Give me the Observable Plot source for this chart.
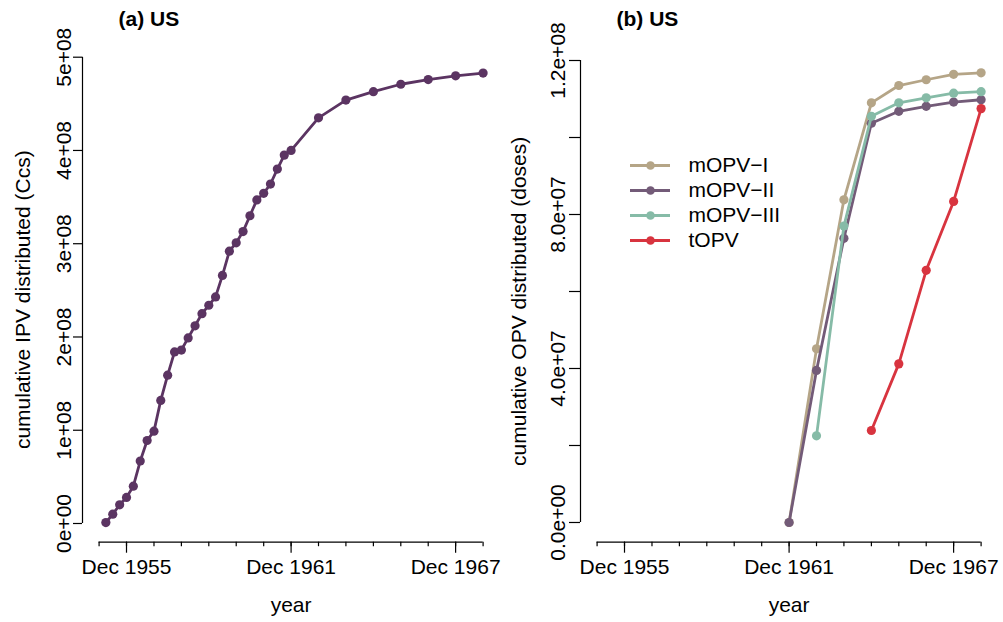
<!DOCTYPE html>
<html>
<head>
<meta charset="utf-8">
<script src="https://cdn.jsdelivr.net/npm/d3@7"></script>
<script src="https://cdn.jsdelivr.net/npm/@observablehq/plot@0.6"></script>
<style>
html, body { margin: 0; padding: 0; background: #fff; }
#wrap { position: relative; width: 1003px; height: 622px; overflow: hidden; background: #fff; }
#wrap > svg { position: absolute; top: 0; overflow: visible; }
</style>
</head>
<body>
<div id="wrap"></div>
<script>
// ---------- data ----------
// (a) US: cumulative IPV distributed (Ccs), quarterly then yearly
const ipvDates = [
  "1955-03","1955-06","1955-09","1955-12",
  "1956-03","1956-06","1956-09","1956-12",
  "1957-03","1957-06","1957-09","1957-12",
  "1958-03","1958-06","1958-09","1958-12",
  "1959-03","1959-06","1959-09","1959-12",
  "1960-03","1960-06","1960-09","1960-12",
  "1961-03","1961-06","1961-09","1961-12",
  "1962-12","1963-12","1964-12","1965-12","1966-12","1967-12","1968-12"
];
const ipvMillions = [
  1, 10, 20, 28,
  40, 67, 89, 99,
  132, 159, 184, 186,
  199, 212, 225, 234,
  243, 266, 292, 301,
  313, 330, 347, 354,
  364, 380, 395, 400,
  435, 454, 463, 471, 476, 480, 483
];

// (b) US: cumulative OPV distributed (doses), yearly
const opvDates = ["1961-12","1962-12","1963-12","1964-12","1965-12","1966-12","1967-12","1968-12"];
const mOPV_I   = [0, 45.1, 83.8, 109.0, 113.5, 115.0, 116.4, 116.8];
const mOPV_II  = [0, 39.5, 73.8, 103.7, 106.8, 108.1, 109.2, 109.8];
const mOPV_III = [null, 22.5, 77.0, 105.5, 109.0, 110.3, 111.5, 111.9];
const tOPV     = [null, null, null, 23.9, 41.2, 65.5, 83.4, 107.5];

const seriesNames = ["mOPV\u2212I", "mOPV\u2212II", "mOPV\u2212III", "tOPV"];
const seriesValues = [mOPV_I, mOPV_II, mOPV_III, tOPV];
const seriesColors = ["#B5A587", "#735B78", "#86BBA7", "#D8343F"];
const ipvColor = "#5B3462";

// axis ticks
const xMinorTicks = ["1954-12","1955-12","1956-12","1957-12","1958-12","1959-12","1960-12","1961-12",
                     "1962-12","1963-12","1964-12","1965-12","1966-12","1967-12","1968-12"];
const xMajorTicks = ["1955-12","1961-12","1967-12"];
const yTicksA = [0, 1e8, 2e8, 3e8, 4e8, 5e8];
const yTicksB = [0, 2e7, 4e7, 6e7, 8e7, 1e8, 1.2e8];
const yLabelsB = [0, 4e7, 8e7, 1.2e8];

const titleA = "(a) US", titleB = "(b) US";
const yTitleA = "cumulative IPV distributed (Ccs)";
const yTitleB = "cumulative OPV distributed (doses)";
const xTitle = "year";

// ---------- build ----------
const parse = d3.utcParse("%Y-%m");
const fmtDate = d3.utcFormat("%b %Y");
const sci = (d, digits) => d.toExponential(digits).replace(/e([+-])(\d)$/, "e$10$2");

const ipv = ipvDates.map((d, i) => ({date: parse(d), value: ipvMillions[i] * 1e6}));
const opv = [];
seriesNames.forEach((s, k) => {
  seriesValues[k].forEach((v, i) => {
    if (v != null) opv.push({series: s, date: parse(opvDates[i]), value: v * 1e6});
  });
});

const minorDates = xMinorTicks.map(parse);
const majorDates = xMajorTicks.map(parse);
const xStart = new Date(Date.UTC(1954, 3, 24));
const xEnd = minorDates[minorDates.length - 1];
const xMid = new Date((+minorDates[0] + +xEnd) / 2);

const FONT = '"Liberation Sans", Arial, Helvetica, sans-serif';
const FS = 21;
const H = 622;
const AXIS_Y = 541.7;

function panel({width, left, marginRight, marginTop, yDomain, yTicks, yFmt, tickSize, tickPadding, title, yTitle, yTitleDx, marks}) {
  const svg = Plot.plot({
    width, height: H,
    marginLeft: 82, marginRight, marginTop, marginBottom: H - AXIS_Y,
    x: {type: "utc", domain: [xStart, xEnd], label: null},
    y: {domain: yDomain, label: null},
    color: {domain: seriesNames, range: seriesColors},
    style: {fontFamily: FONT, fontSize: FS + "px", color: "#000", background: "transparent", overflow: "visible"},
    marks: [
      // x axis
      Plot.ruleY([yDomain[0]], {x1: () => minorDates[0], x2: () => xEnd, stroke: "#000", strokeWidth: 1.2}),
      Plot.axisX(minorDates, {tickSize: 4.5, tickFormat: () => "", strokeWidth: 1.2, label: null}),
      Plot.axisX(majorDates, {tickSize: 11, tickPadding: 5.6, tickFormat: fmtDate, strokeWidth: 1.2, fontSize: FS, label: null}),
      // y axis
      Plot.ruleX([xStart], {y1: () => yTicks[0], y2: () => yTicks[yTicks.length - 1], stroke: "#000", strokeWidth: 1.2}),
      Plot.axisY(yTicks, {anchor: "left", tickSize, tickPadding, tickRotate: -90, textAnchor: "middle", lineAnchor: "bottom",
        tickFormat: yFmt, strokeWidth: 1.2, fontSize: FS, label: null}),
      // titles
      Plot.text([yTitle], {text: d => d, frameAnchor: "left", rotate: -90, dx: yTitleDx, textAnchor: "middle", lineAnchor: "middle", fontSize: FS}),
      Plot.text([xTitle], {text: d => d, x: () => xMid, frameAnchor: "bottom", lineAnchor: "bottom", dy: 69.3, textAnchor: "middle", fontSize: FS}),
      Plot.text([title], {text: d => d, frameAnchor: "top-left", dx: 36, dy: 25 - marginTop, lineAnchor: "bottom", textAnchor: "start", fontWeight: "bold", fontSize: FS}),
      ...marks
    ]
  });
  svg.style.left = left + "px";
  return svg;
}

const wrap = document.getElementById("wrap");

const svgA = panel({
  width: 498, left: 0, marginRight: 15.4, marginTop: 56.7,
  yDomain: [-2.005e7, 5e8], yTicks: yTicksA, yFmt: d => sci(d, 0),
  tickSize: 9, tickPadding: 2.5,
  title: titleA, yTitle: yTitleA, yTitleDx: -59,
  marks: [
    Plot.line(ipv, {x: "date", y: "value", stroke: ipvColor, strokeWidth: 2.8}),
    Plot.dot(ipv, {x: "date", y: "value", r: 4.6, fill: ipvColor})
  ]
});
wrap.appendChild(svgA);

const svgB = panel({
  width: 505, left: 498, marginRight: 22.4, marginTop: 60,
  yDomain: [-5.12e6, 1.2e8], yTicks: yTicksB, yFmt: d => yLabelsB.includes(d) ? sci(d, 1) : "",
  tickSize: 11, tickPadding: 5,
  title: titleB, yTitle: yTitleB, yTitleDx: -61.5,
  marks: seriesNames.flatMap(s => {
    const rows = opv.filter(r => r.series === s);
    return [
      Plot.line(rows, {x: "date", y: "value", stroke: "series", strokeWidth: 2.8}),
      Plot.dot(rows, {x: "date", y: "value", r: 4.6, fill: "series"})
    ];
  })
});
wrap.appendChild(svgB);

// legend
const legend = Plot.plot({
  width: 180, height: 110,
  marginTop: 13.3, marginBottom: 19.3, marginLeft: 10, marginRight: 130,
  x: {domain: [0, 1], axis: null},
  y: {type: "point", domain: seriesNames, padding: 0, axis: null},
  color: {domain: seriesNames, range: seriesColors},
  style: {fontFamily: FONT, fontSize: FS + "px", color: "#000", background: "transparent", overflow: "visible"},
  marks: [
    Plot.ruleY(seriesNames, {y: d => d, x1: 0, x2: 1, stroke: d => d, strokeWidth: 2.8}),
    Plot.dot(seriesNames, {x: 0.5, y: d => d, r: 4.3, fill: d => d}),
    Plot.text(seriesNames, {x: 1, y: d => d, text: d => d, dx: 18, textAnchor: "start", fontSize: FS})
  ]
});
legend.style.left = "620px";
legend.style.top = "150px";
wrap.appendChild(legend);
</script>
</body>
</html>
